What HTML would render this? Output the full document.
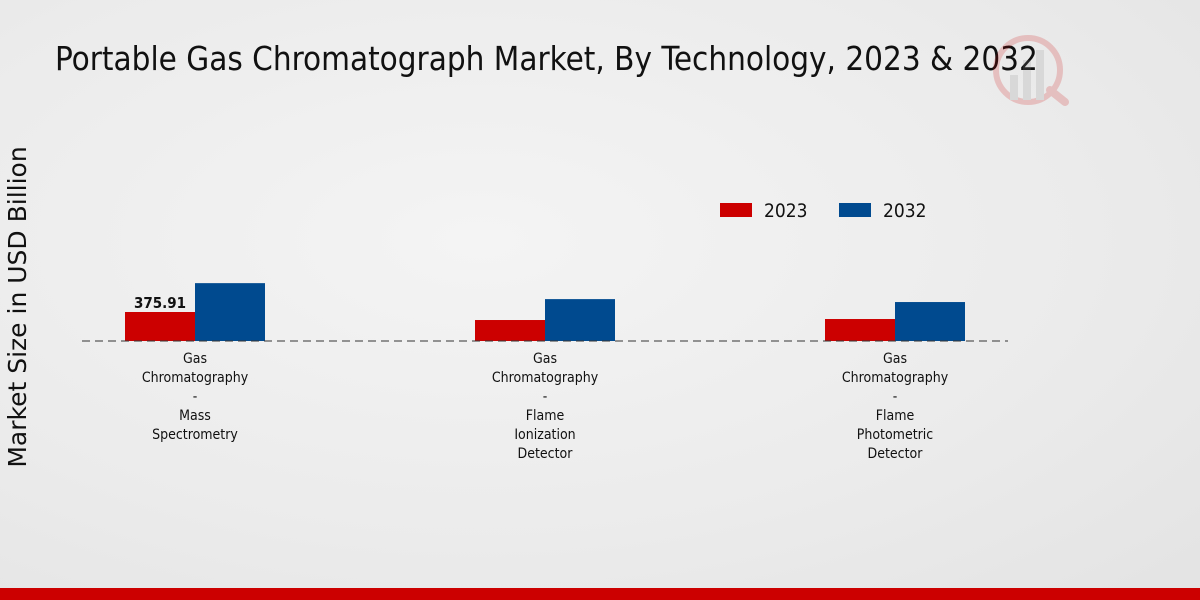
<!DOCTYPE html>
<html><head><meta charset="utf-8">
<style>
html,body{margin:0;padding:0}
body{width:1200px;height:600px;overflow:hidden;background:radial-gradient(ellipse at 40% 40%,#f4f4f4 0%,#ebebeb 60%,#e3e3e3 100%);font-family:"DejaVu Sans Condensed","Liberation Sans Narrow","DejaVu Sans",sans-serif;position:relative}
svg{position:absolute;left:0;top:0}
</style></head>
<body>
<svg width="1200" height="600">
<text x="55" y="70" font-size="32.9" fill="#111" font-family="DejaVu Sans Condensed, Liberation Sans Narrow, sans-serif">Portable Gas Chromatograph Market, By Technology, 2023 &amp; 2032</text>
<g opacity="0.18">
<circle cx="1028" cy="70" r="32" fill="none" stroke="#c00" stroke-width="6"/>
<rect x="1010" y="75" width="8" height="25" fill="#888"/><rect x="1023" y="60" width="8" height="40" fill="#888"/><rect x="1036" y="50" width="8" height="50" fill="#888"/>
<line x1="1050" y1="90" x2="1065" y2="102" stroke="#c00" stroke-width="8" stroke-linecap="round"/>
</g>
<text transform="translate(26,307) rotate(-90)" text-anchor="middle" font-size="25" fill="#111" font-family="DejaVu Sans, sans-serif">Market Size in USD Billion</text>
<g>
<rect x="720" y="203" width="32" height="14" fill="#cc0000"/>
<text x="764" y="217" font-size="19" fill="#111">2023</text>
<rect x="839" y="203" width="32" height="14" fill="#004a8f"/>
<text x="883" y="217" font-size="19" fill="#111">2032</text>
</g>
<g id="plot"></g>
<line x1="82" y1="341" x2="1008" y2="341" stroke="#333" stroke-width="1" stroke-dasharray="8,5"/>
<rect x="0" y="588" width="1200" height="12" fill="#cc0000"/>
</svg>
<script>
const categories=[["Gas","Chromatography","-","Mass","Spectrometry"],["Gas","Chromatography","-","Flame","Ionization","Detector"],["Gas","Chromatography","-","Flame","Photometric","Detector"]];
const values2023=[375.91,272,285];
const values2032=[750,543,505];
const valueLabels=["375.91","",""];
const NS="http://www.w3.org/2000/svg";
const g=document.getElementById('plot');
const base=341, scale=29/375.91;
const y=v=>base-v*scale;
const xc=i=>195+i*350;
function rect(x,v,fill,name){const r=document.createElementNS(NS,'rect');
r.setAttribute('x',x);r.setAttribute('y',y(v));r.setAttribute('width',70);r.setAttribute('height',base-y(v));r.setAttribute('fill',fill);


g.appendChild(r);}
categories.forEach((c,i)=>{
rect(xc(i)-70,values2023[i],'#cc0000','bar-2023-'+(i+1));
rect(xc(i),values2032[i],'#004a8f','bar-2032-'+(i+1));
if(valueLabels[i]){const t=document.createElementNS(NS,'text');
t.setAttribute('x',xc(i)-35);t.setAttribute('y',y(values2023[i])-4);t.setAttribute('text-anchor','middle');t.setAttribute('font-size','15');t.setAttribute('font-weight','bold');t.setAttribute('fill','#111');t.textContent=valueLabels[i];


g.appendChild(t);}
c.forEach((line,j)=>{const t=document.createElementNS(NS,'text');
t.setAttribute('x',xc(i));t.setAttribute('y',363+j*19);t.setAttribute('text-anchor','middle');t.setAttribute('font-size','14');t.setAttribute('fill','#111');t.textContent=line;


g.appendChild(t);});
});
</script>
</body></html>
